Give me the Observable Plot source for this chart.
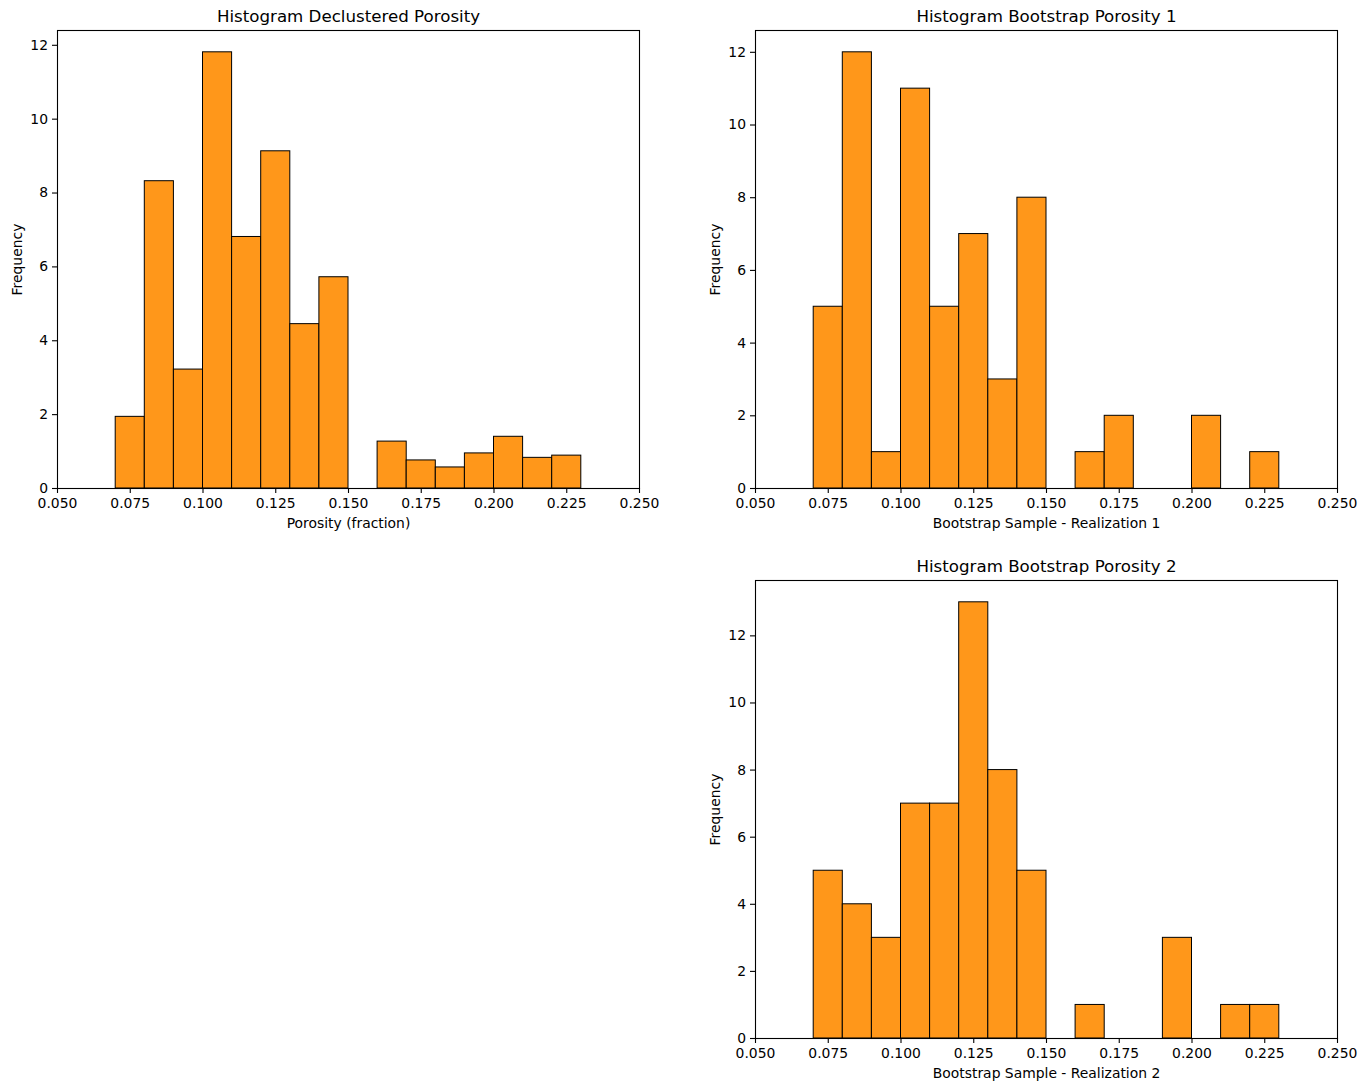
<!DOCTYPE html>
<html>
<head>
<meta charset="utf-8">
<script src="https://cdn.jsdelivr.net/npm/d3@7"></script>
<script src="https://cdn.jsdelivr.net/npm/@observablehq/plot@0.6"></script>
<style>
  html, body { margin: 0; padding: 0; background: #fff; }
  #wrap { position: relative; width: 1366px; height: 1091px; background: #fff; overflow: hidden; }
  #wrap > svg { position: absolute; }
</style>
</head>
<body>
<div id="wrap"></div>
<script>
// Bin edges (left edge of each bin, width 0.01)
const binStarts = [0.07, 0.08, 0.09, 0.10, 0.11, 0.12, 0.13, 0.14, 0.15, 0.16, 0.17, 0.18, 0.19, 0.20, 0.21, 0.22];
const binWidth = 0.01;

// Series values (frequency per bin)
const declustered = [1.94, 8.32, 3.22, 11.81, 6.81, 9.13, 4.45, 5.72, 0, 1.27, 0.76, 0.57, 0.95, 1.40, 0.83, 0.89];
const bootstrap1 = [5, 12, 1, 11, 5, 7, 3, 8, 0, 1, 2, 0, 0, 2, 0, 1];
const bootstrap2 = [5, 4, 3, 7, 7, 13, 8, 5, 0, 1, 0, 0, 3, 0, 1, 1];

// Tick labels
const xTicks = [0.05, 0.075, 0.10, 0.125, 0.15, 0.175, 0.20, 0.225, 0.25];
const yTicks = [0, 2, 4, 6, 8, 10, 12];

// Titles and labels
const titles = ["Histogram Declustered Porosity", "Histogram Bootstrap Porosity 1", "Histogram Bootstrap Porosity 2"];
const xLabels = ["Porosity (fraction)", "Bootstrap Sample - Realization 1", "Bootstrap Sample - Realization 2"];
const yLabel = "Frequency";

const panels = [
  {values: declustered, title: titles[0], xlabel: xLabels[0], left: 0, top: 0},
  {values: bootstrap1, title: titles[1], xlabel: xLabels[1], left: 698, top: 0},
  {values: bootstrap2, title: titles[2], xlabel: xLabels[2], left: 698, top: 550}
];

const wrap = document.getElementById("wrap");
const fontFamily = "'DejaVu Sans', sans-serif";

for (const p of panels) {
  const data = binStarts.map((b, i) => ({x1: b, x2: b + binWidth, y: p.values[i]}));
  const ymax = d3.max(p.values) * 1.05;
  const chart = Plot.plot({
    width: 660,
    height: 540,
    marginLeft: 57,
    marginTop: 30,
    marginRight: 21,
    marginBottom: 52,
    style: {fontFamily, fontSize: "13.9px", color: "black", background: "white", overflow: "visible"},
    x: {domain: [0.05, 0.25]},
    y: {domain: [0, ymax]},
    marks: [
      Plot.rect(data, {x1: "x1", x2: "x2", y1: 0, y2: "y", fill: "#ff971a", stroke: "black", strokeWidth: 1, inset: 0}),
      Plot.frame({stroke: "black", strokeWidth: 1.1}),
      Plot.axisX({ticks: xTicks, tickFormat: d3.format(".3f"), tickSize: 5, tickPadding: 4.5, label: null, strokeWidth: 1.1, fontSize: 13.9}),
      Plot.axisY({ticks: yTicks, tickFormat: d3.format("d"), tickSize: 5, tickPadding: 4.5, label: null, strokeWidth: 1.1, fontSize: 13.9}),
      Plot.text([p.title], {frameAnchor: "top", lineAnchor: "middle", textAnchor: "middle", dy: -14, fontSize: 16.67, fill: "black"}),
      Plot.text([p.xlabel], {frameAnchor: "bottom", lineAnchor: "middle", textAnchor: "middle", dy: 35, fontSize: 13.9, fill: "black"}),
      Plot.text([yLabel], {frameAnchor: "left", lineAnchor: "middle", textAnchor: "middle", dx: -40, rotate: -90, fontSize: 13.9, fill: "black"})
    ]
  });
  chart.style.left = p.left + "px";
  chart.style.top = p.top + "px";
  wrap.appendChild(chart);
}
</script>
</body>
</html>
